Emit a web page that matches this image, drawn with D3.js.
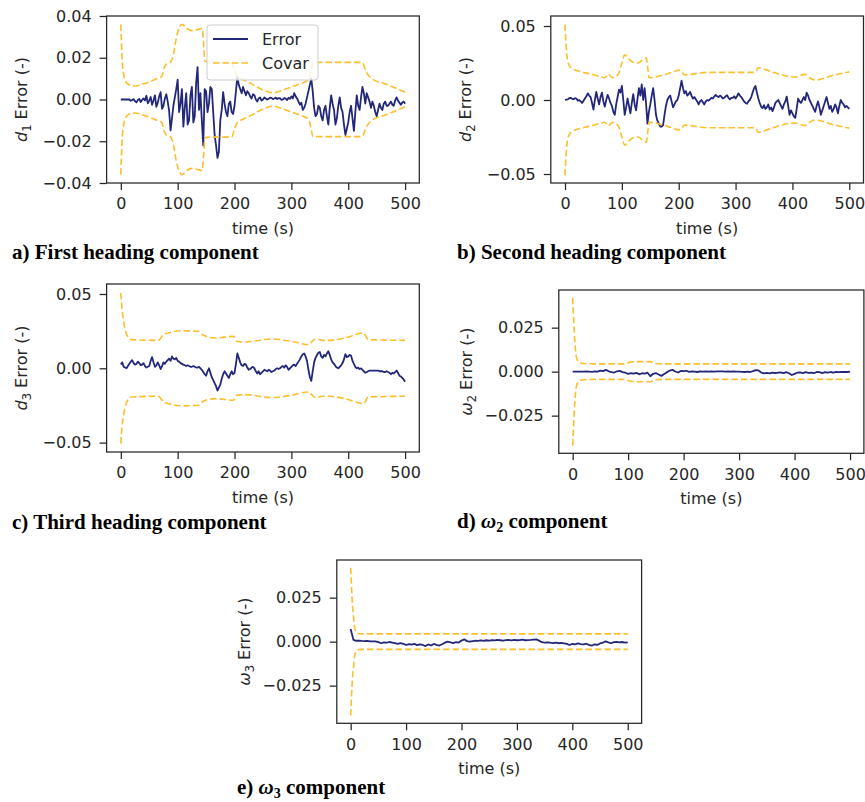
<!DOCTYPE html>
<html>
<head>
<meta charset="utf-8">
<script src="https://cdn.jsdelivr.net/npm/d3@7"></script>
<style>
  body { margin: 0; background: #ffffff; }
  svg text { font-family: "DejaVu Sans", sans-serif; fill: #262626; }
  .caption { font-family: "Liberation Serif", "Times New Roman", serif; font-weight: bold; fill: #000; }
</style>
</head>
<body>
<svg id="fig" width="865" height="802"></svg>
<script>
// Sample times (s): heading errors logged every 2.5 s, rate errors every 5 s
const timeFine = d3.range(0, 501, 2.5);
const timeCoarse = d3.range(0, 505, 5);

// Estimation error of each state, in units of 1e-3, one value per sample time
const errD1 = [
  0, 0, 0, 0, 0, 0, 0, -0.6, -0.3, 0.2, -0.8, -1.4, -0.2, 0.3, -1.2, -0.2, 0.5, -0.5, 1.8, -1.8,
  -0.5, 1.2, -2.5, -0.5, 2.0, -3.5, -1.5, 1.5, 3.5, -4.5, -3.0, 0.5, 2.5, -1, -5.5, -14.8, -9, -3, 1.0, 5,
  9.5, -6, -2, 5, -13, -4, 3, -12, -10, 2, 6, -11, -8, 8, 15.5, -5, 3, -10, -22, 5,
  4, -6, -2, 6, 5, -6, -17, -22, -28, -25, -10, -5, 3.5, -2, -6, -8, -2, -1, -6, -7,
  -3, 4, 11, 7, 5, 3, 6, 4, 2, 4, 3, 1.5, 0.5, 2.5, 2, 0, -1, 0.5, 1, -0.5,
  0, 1, 0.5, 0, 0.3, 0.9, 0.8, 0.2, 0.5, 0.9, 0.2, 0.7, 0.6, -0.2, 0, 0.7, 0.4, -0.3, 0.8, 0.3,
  1.5, 0.5, 3.0, 1.5, 0.5, -1, -2.5, -1.5, -5, -4, -2, 1, 4, 7, 10, 4, -4, -8, -7, -3,
  -4, -8, -10, -5, -3, -8, -12, -4, 2, -2, -5, -12, -9, -3, 1, -4, -6, -12, -17, -14,
  -11, -6, -3, -9, -15, -6, 2, -3, -5, 1, 6, 3, -2, 3, 1, -1, -4, -1, -3, -6,
  -8, -5, -2, -4, -5, -2, -1, -3, -3, -2, -1, -2.5, -3, -0.5, 1, -0.5, -1.5, -2.5, -1.5, -1,
  -2
];
const errD2 = [
  0, 0.3, 0.5, 1.2, 1.5, 0.8, 0.5, 1.2, 1, -0.5, 0, -1, -2, -0.5, 1, 2.5, 4.5, 3, 2, -2,
  -6.5, 0, 5.5, 1, -3, 2, 5, -1, -4.5, 0, 3.5, 1, -2, -4, -8, -10, -3, 2, 7, 5,
  9.5, 0, -10, -5, 1, -4, -9, -2, 4, -3, -7, 1, 8, 3, 10.5, 0, 8, -2, -16, -8,
  -3, 3, 8, 0, -10, -14, -16, -18, -18, -17, -10, -4, 0, 2, 3, -1, -5, -3, -1, 0,
  3, 8, 13, 8, 4.5, 6, 3, 4, 5.5, 3, 1, 2, 0.5, -1, -3, -1, 0, -1.5, -3, -1,
  0, -0.5, 0.5, 1.5, 1, 2.5, 3.4, 2.5, 2, 3, 2.3, 1, 1.5, 2.5, 3.2, 1.5, 0.5, 1.5, 1.5, 2.5,
  1, 2.5, 4.5, 3, 2, 0.5, -1, -2, -2.5, -1, 0, 2, 5, 8, 9.5, 5, 1, -2, -4.5, -5.5,
  -3.5, -6, -5, -3, -6.5, -5, -7.5, -5, -2, -1, 0, -2, -4, -6, -3, -1, 2.3, -4, -10, -7,
  -9, -11, -12, -6, 1, -1, -2, 0, 2, 0, 5, 3, 0, -2, -4, -6, -8, -4, -1, -5,
  -10, -7, -4, -1, 2, -2, -6, -4, -8, -6, -3, -5, -9, -4, 0, -2, -3, -5, -4, -5,
  -6
];
const errD3 = [
  2.5, 4, 1, 0.5, 0, 1.5, 3, 4.5, 5.5, 3.5, 2.5, 3, 4.5, 3.5, 2, 2.5, 3.5, 1.5, 0.5, 1,
  1.5, 5, 7.5, 4, 1, 2, 4, 2, -0.5, 1.5, 4, 3, 4.5, 5.5, 6.5, 5, 8, 6.5, 6, 7,
  5, 4.5, 3.5, 3, 2.5, 2, 1.5, 2, 1.5, 1, 1, 1.5, 1, 0.5, 0.5, 1, 0, -1, -2.5, -4,
  -5, -2, 0, -3, -6, -8, -10, -12, -15, -13, -11, -7, -4, -2, -3.5, -5, -6.5, -4, -2, -4,
  -3, 3, 10, 7, 4, 2, 1.5, 3, 2.5, 0.5, -1, -0.5, 0.5, 1, 0, -2, -3.5, -2, -4, -3,
  -2, -1, -1.5, -2, -1, -1.5, -2.5, -2, -1.5, -0.5, 0, -0.5, 0, 1, 1.5, 0.5, 2, 1, -1, 0,
  1, 2, 2.5, 1.5, 3, 4.5, 6, 8, 9.5, 10, 8, 5, -1, -6, -8.5, -2, 4, 7, 9, 10.5,
  11, 8, 7, 9, 8, 10, 11.5, 9, 6, 4, 3, 1.5, 0.5, 0, 1, 2, 3.5, 6, 9.5, 7.5,
  8, 9, 8.5, 5, 3, 1, 0, 0.5, -0.5, 0, -1, -2, -3, -2.5, -2, -1.5, -1.5, -1.5, -1.5, -1.5,
  -1.5, -1.5, -2, -2, -2, -2.5, -2.5, -2, -2.5, -3, -4, -3, -3.5, -2.5, -1.5, -3, -5, -5.5, -6.5, -7.5,
  -9
];
const errW2 = [
  0, 0, 0, 0, 0, 0.1, 0, -0.1, 0.1, 0,
  0.6, 0.3, 1.0, 0.2, -0.3, -0.5, 0.2, 0.4, -0.3, -0.6,
  -1.3, -0.9, -1.1, -0.7, -1.5, -0.9, -1.1, -0.6, -2.6, -1.2,
  -0.8, -1.6, -2.4, -1.4, -0.4, 0.6, 1.0, 0.1, -0.5, 0.4,
  0.3, 0.5, -0.1, 0.1, 0, -0.2, 0.1, 0, 0.1, 0,
  0.1, 0, 0.1, 0.2, 0.1, 0, 0.1, 0, 0.1, 0,
  0, -0.1, -0.2, 0, -0.2, 0.3, 0.9, 0.7, -0.5, -1.0,
  -0.7, -1.0, -0.5, -0.9, -0.6, -0.4, -0.8, -0.3, -0.9, -1.9,
  -1.3, -0.6, -0.4, -0.8, -0.3, -0.7, -0.6, -0.9, -0.2, -0.3,
  -0.8, -0.3, -0.6, -0.2, -0.5, -0.1, -0.3, -0.2, -0.1, -0.2,
  0
];
const errW3 = [
  7.2, 1.0, 0.5, 0.6, 0.4, 0.3, 0.5, 0.2, 0.1, 0.2,
  -0.3, -0.9, -0.4, -0.6, -0.2, -0.5, -0.9, -1.3, -0.8, -1.2,
  -1.9, -1.4, -1.7, -1.3, -2.0, -1.5, -1.9, -2.5, -1.6, -2.2,
  -1.3, -1.8, -2.2, -1.5, -0.6, 0, -0.4, -0.8, -0.3, -0.5,
  0.6, 1.3, 0.3, 0, 0.3, 0.5, 0.4, 0.7, 0.5, 0.8,
  0.6, 0.9, 0.7, 1.0, 0.8, 0.6, 0.9, 1.0, 0.7, 1.0,
  0.8, 0.9, 1.1, 0.8, 0.9, 1.0, 1.2, 1.3, 0.6, -0.3,
  -0.5, -0.4, -0.6, -0.8, -0.5, -0.9, -0.7, -1.0, -1.3, -1.9,
  -1.2, -1.5, -1.0, -1.4, -1.6, -1.2, -1.8, -2.3, -1.5, -1.9,
  -1.0, -0.6, 0.2, -0.4, -0.9, -0.3, -0.1, -0.4, -0.2, -0.5,
  -0.4
];

// Covariance bound (3 sigma, units of 1e-3) at knot times; drawn as +/- envelope
const covTD1 = [0, 1, 2, 3, 5, 8, 12, 16, 25, 40, 55, 66, 72, 76, 80, 88, 92, 98, 104, 108, 116, 125, 135, 143, 146, 148, 160, 195, 200, 205, 215, 230, 250, 268, 290, 310, 330, 334, 338, 424, 432, 440, 470, 500];
const covVD1 = [36, 28, 21, 16.5, 12, 9, 7.5, 6.8, 6.5, 7.5, 9, 10.3, 11, 15, 17, 18, 21, 30, 35, 36, 34, 33, 33.5, 34, 25, 18.3, 18, 18, 14, 11, 9.5, 7.5, 4.6, 3.2, 5, 7, 9.5, 13, 17.8, 17.8, 13, 10.3, 7, 3.5];
const covTD2 = [0, 1, 2, 3, 5, 8, 14, 23, 40, 60, 70, 76, 84, 93, 100, 105, 110, 117, 128, 143, 146, 148, 164, 190, 202, 210, 250, 334, 340, 360, 380, 404, 422, 430, 440, 470, 500];
const covVD2 = [51, 42, 36, 31, 26, 23, 21, 19.6, 18, 16, 15, 17.5, 15, 17, 25, 30.5, 29, 26, 25, 28.5, 20, 15, 16, 19, 20.3, 17, 18.7, 18.7, 21.8, 19.5, 17, 15.5, 17.3, 15, 13.5, 16.5, 19];
const covTD3 = [0, 1, 2, 3, 4.6, 7, 10.5, 19, 66, 75, 84, 107, 137, 145, 166, 198, 204, 218, 265, 300, 330, 342, 359, 394, 427, 435, 500];
const covVD3 = [50.7, 45, 40, 36.5, 32.7, 27, 22.7, 19.3, 18.8, 22.7, 23.8, 25.3, 24.9, 22.2, 20.4, 21.5, 18.2, 17.7, 19.7, 18.2, 15.9, 19.7, 18.6, 20.4, 23.8, 19.3, 18.8];
const covTW2 = [0, 1, 2, 3, 4, 5, 6, 8, 10, 14, 20, 40, 90, 100, 110, 140, 150, 160, 500];
const covVW2 = [42, 35, 28, 22, 17, 13, 9.5, 7, 5.8, 5, 4.6, 4.4, 4.4, 5, 5.7, 5.7, 4.6, 4.4, 4.4];
const covTW3 = [0, 1, 2, 3, 4, 5, 6, 7, 8, 10, 14, 20, 500];
const covVW3 = [42, 35, 28, 22, 18, 15, 11, 8.5, 7, 5.5, 4.6, 4.4, 4.4];

// Axis ticks
const xTicks = [0, 100, 200, 300, 400, 500];
const yTicksD1 = [-0.04, -0.02, 0, 0.02, 0.04];
const yTicksD = [-0.05, 0, 0.05];
const yTicksW = [-0.025, 0, 0.025];
const xLimits = [-25, 525];

const legendLabels = ["Error", "Covar"];
const errColor = "#23277a";
const covColor = "#fdbe2c";
const covDash = "6.5,3";

const panels = [
  { key: "a", time: timeFine, err: errD1, covT: covTD1, covV: covVD1, ylim: [-0.04, 0.04], yticks: yTicksD1, fmt: ".2f",
    sym: "d", sub: "1", caption: [["a) First heading component"]],
    box: [106.6, 419.3, 16, 183], ylabX: 27, capX: 12, capY: 259, legend: true },
  { key: "b", time: timeFine, err: errD2, covT: covTD2, covV: covVD2, ylim: [-0.05608, 0.05676], yticks: yTicksD, fmt: ".2f",
    sym: "d", sub: "2", caption: [["b) Second heading component"]],
    box: [550.8, 863.5, 16, 183], ylabX: 471, capX: 457, capY: 259 },
  { key: "c", time: timeFine, err: errD3, covT: covTD3, covV: covVD3, ylim: [-0.05633, 0.05673], yticks: yTicksD, fmt: ".2f",
    sym: "d", sub: "3", caption: [["c) Third heading component"]],
    box: [106.6, 419.3, 284, 452], ylabX: 27, capX: 12, capY: 529 },
  { key: "d", time: timeCoarse, err: errW2, covT: covTW2, covV: covVW2, ylim: [-0.0464, 0.0464], yticks: yTicksW, fmt: ".3f",
    sym: "\u03c9", sub: "2", caption: [["d) "], ["\u03c9", "it"], ["2", "sub"], [" component"]],
    box: [558.8, 863.9, 290, 453.3], ylabX: 472, capX: 457, capY: 528 },
  { key: "e", time: timeCoarse, err: errW3, covT: covTW3, covV: covVW3, ylim: [-0.0464, 0.0464], yticks: yTicksW, fmt: ".3f",
    sym: "\u03c9", sub: "3", caption: [["e) "], ["\u03c9", "it"], ["3", "sub"], [" component"]],
    box: [336.8, 641.6, 560, 723.3], ylabX: 250, capX: 237, capY: 794 }
];

const svg = d3.select("#fig");
const FS = 16;

panels.forEach(p => {
  const [L, R, T, B] = p.box;
  const x = d3.scaleLinear().domain(xLimits).range([L, R]);
  const y = d3.scaleLinear().domain(p.ylim).range([B, T]);
  const g = svg.append("g").attr("class", "panel-" + p.key);

  svg.append("clipPath").attr("id", "clip-" + p.key)
    .append("rect").attr("x", L).attr("y", T).attr("width", R - L).attr("height", B - T);
  const plot = g.append("g").attr("clip-path", `url(#clip-${p.key})`);

  // error trace
  const errLine = d3.line().x((d, i) => x(p.time[i])).y(d => y(d / 1000));
  plot.append("path").datum(p.err)
    .attr("d", errLine)
    .attr("fill", "none").attr("stroke", errColor)
    .attr("stroke-width", 1.8).attr("stroke-linejoin", "round");

  // covariance envelope
  const knots = p.covT.map((t, i) => [t, p.covV[i]]);
  const covLine = d3.line().x(d => x(d[0])).y(d => y(d[1] / 1000)).curve(d3.curveMonotoneX);
  [1, -1].forEach(s => {
    plot.append("path").datum(knots.map(k => [k[0], s * k[1]]))
      .attr("d", covLine)
      .attr("fill", "none").attr("stroke", covColor)
      .attr("stroke-width", 1.6).attr("stroke-dasharray", covDash);
  });

  // frame
  g.append("rect").attr("x", L).attr("y", T).attr("width", R - L).attr("height", B - T)
    .attr("fill", "none").attr("stroke", "#262626").attr("stroke-width", 1.25);

  // axes
  const xAxis = d3.axisBottom(x).tickValues(xTicks).tickSize(7).tickPadding(8).tickFormat(d3.format("d"));
  const gx = g.append("g").attr("transform", `translate(0,${B})`).call(xAxis);
  const yAxis = d3.axisLeft(y).tickValues(p.yticks).tickSize(7).tickPadding(8).tickFormat(d3.format(p.fmt));
  const gy = g.append("g").attr("transform", `translate(${L},0)`).call(yAxis);
  [gx, gy].forEach(a => {
    a.select(".domain").remove();
    a.selectAll(".tick line").attr("stroke", "#262626").attr("stroke-width", 1.25);
    a.selectAll(".tick text").attr("font-size", FS).attr("font-family", "DejaVu Sans").attr("fill", "#262626");
  });

  // x label
  g.append("text").attr("x", (L + R) / 2).attr("y", B + 51)
    .attr("text-anchor", "middle").attr("font-size", FS).text("time (s)");

  // y label
  const cy = (T + B) / 2;
  const yl = g.append("text")
    .attr("transform", `translate(${p.ylabX},${cy}) rotate(-90)`)
    .attr("text-anchor", "middle").attr("font-size", FS);
  yl.append("tspan").attr("font-style", "italic").text(p.sym);
  yl.append("tspan").attr("font-size", 11.5).attr("dy", 4).text(p.sub);
  yl.append("tspan").attr("dy", -4).text(" Error (-)");

  // caption
  const cap = g.append("text").attr("class", "caption").attr("x", p.capX).attr("y", p.capY).attr("font-size", 21);
  p.caption.forEach(([txt, kind]) => {
    const ts = cap.append("tspan").text(txt);
    if (kind === "it") ts.attr("font-style", "italic");
    if (kind === "sub") ts.attr("font-size", 14).attr("dy", 4);
    if (kind === undefined && cap.selectAll("tspan").size() > 1) ts.attr("dy", -4);
  });

  // legend
  if (p.legend) {
    const lg = g.append("g");
    lg.append("rect").attr("x", 207).attr("y", 25).attr("width", 111).attr("height", 55)
      .attr("rx", 3).attr("fill", "#ffffff").attr("fill-opacity", 0.8)
      .attr("stroke", "#cccccc").attr("stroke-width", 1);
    legendLabels.forEach((lab, i) => {
      const ly = 39 + i * 24;
      lg.append("line").attr("x1", 213).attr("x2", 248).attr("y1", ly).attr("y2", ly)
        .attr("stroke", i === 0 ? errColor : covColor).attr("stroke-width", i === 0 ? 1.8 : 1.6)
        .attr("stroke-dasharray", i === 0 ? null : covDash);
      lg.append("text").attr("x", 262).attr("y", ly + 6).attr("font-size", FS).text(lab);
    });
  }
});
</script>
</body>
</html>
